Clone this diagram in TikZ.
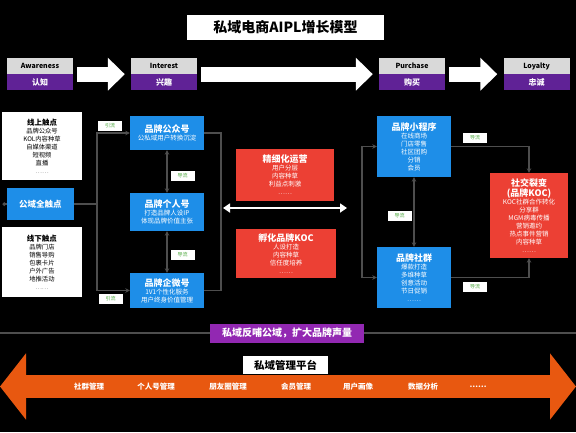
\documentclass[tikz,border=0pt]{standalone}
\usepackage{fontspec}
\setmainfont{Noto Sans CJK SC}
\usetikzlibrary{arrows.meta, positioning}
\definecolor{AIPLBlue}{RGB}{30,142,232}
\definecolor{AIPLRed}{RGB}{236,64,52}
\definecolor{AIPLPurple}{RGB}{96,34,150}
\definecolor{AIPLViolet}{RGB}{146,40,178}
\definecolor{AIPLOrange}{RGB}{232,88,16}
\definecolor{AIPLGray}{RGB}{217,217,217}
\definecolor{AIPLLine}{RGB}{78,78,78}
\definecolor{AIPLGreen}{RGB}{76,168,60}
\newcommand{\boxtitle}[1]{{\bfseries\fontsize{9}{12}\selectfont #1}}

\begin{document}
\begin{tikzpicture}[
    x=1pt, y=-1pt,
    bluebox/.style={rectangle, fill=AIPLBlue, text=white, minimum width=74pt, align=center, inner sep=0pt, font=\fontsize{6.5}{8}\selectfont},
    redbox/.style={rectangle, fill=AIPLRed, text=white, align=center, inner sep=0pt, font=\fontsize{6.5}{8}\selectfont},
    whitebox/.style={rectangle, fill=white, text=black, minimum width=80pt, align=center, inner sep=0pt, font=\fontsize{6.3}{8}\selectfont},
    tagbox/.style={rectangle, fill=white, text=AIPLGreen, minimum width=24pt, minimum height=10pt, inner sep=0pt, font=\fontsize{5}{6}\selectfont},
    stagetop/.style={rectangle, fill=AIPLGray, minimum width=66pt, minimum height=16pt, inner sep=0pt, font=\bfseries\fontsize{7}{8}\selectfont},
    stagebot/.style={rectangle, fill=AIPLPurple, text=white, minimum width=66pt, minimum height=16pt, inner sep=0pt, font=\bfseries\fontsize{8}{9}\selectfont},
    blockarrow/.style={white, line width=15pt, -{Triangle[length=17pt, width=32pt]}, shorten <=4pt, shorten >=6pt},
    link/.style={AIPLLine, line width=1.2pt},
    conn/.style={link, -{Stealth[length=4.5pt, width=4.5pt]}},
    dconn/.style={link, {Stealth[length=4.5pt, width=4.5pt]}-{Stealth[length=4.5pt, width=4.5pt]}},
    mgmt/.style={text=white, font=\bfseries\fontsize{7.5}{9}\selectfont}
]
    \fill[black] (0,0) rectangle (576,432);
    \useasboundingbox (0,0) rectangle (576,432);

    % title
    \node[fill=white, minimum width=197pt, minimum height=25pt, font=\bfseries\fontsize{14}{16}\selectfont] (title) at (285.5,27) {私域电商AIPL增长模型};

    % AIPL stages
    \node[stagetop] (aw) at (40,66) {Awareness};
    \node[stagebot] (awcn) at (40,82) {认知};
    \node[stagetop] (in) at (164,66) {Interest};
    \node[stagebot] (incn) at (164,82) {兴趣};
    \node[stagetop] (pu) at (412,66) {Purchase};
    \node[stagebot] (pucn) at (412,82) {购买};
    \node[stagetop] (lo) at (536.5,66) {Loyalty};
    \node[stagebot] (locn) at (536.5,82) {忠诚};
    \draw[blockarrow] (aw.south east) -- (in.south west);
    \draw[blockarrow] (in.south east) -- (pu.south west);
    \draw[blockarrow] (pu.south east) -- (lo.south west);

    % public touch points
    \node[whitebox, minimum height=68pt] (online) at (42,146) {{\bfseries\fontsize{7.5}{10}\selectfont 线上触点}\\品牌公众号\\KOL内容种草\\自媒体渠道\\短视频\\直播\\{\color{gray}……}};
    \node[bluebox, minimum width=67pt, minimum height=32pt, font=\bfseries\fontsize{8.5}{10}\selectfont] (pub) at (40.5,204) {公域全触点};
    \node[whitebox, minimum height=70pt] (offline) at (42,262) {{\bfseries\fontsize{7.5}{10}\selectfont 线下触点}\\品牌门店\\销售导购\\包裹卡片\\户外广告\\地推活动\\{\color{gray}……}};

    % private accounts
    \node[bluebox, minimum height=34pt] (gzh) at (167,133) {\boxtitle{品牌公众号}\\公私域用户转换沉淀};
    \node[bluebox, minimum height=38pt] (grh) at (167,212) {\boxtitle{品牌个人号}\\打造品牌人设IP\\体现品牌价值主张};
    \node[bluebox, minimum height=35pt] (qwh) at (167,290.5) {\boxtitle{品牌企微号}\\1V1个性化服务\\用户终身价值管理};

    % operations
    \node[redbox, minimum width=98pt, minimum height=52pt] (fine) at (285,175) {\boxtitle{精细化运营}\\用户分层\\内容种草\\利益点刺激\\……};
    \node[redbox, minimum width=100pt, minimum height=49pt] (koc) at (286,253.5) {\boxtitle{孵化品牌KOC}\\人设打造\\内容种草\\信任度培养\\……};

    % conversion
    \node[bluebox, minimum height=61pt] (xcx) at (414,146.5) {\boxtitle{品牌小程序}\\在线商场\\门店零售\\社区团购\\分销\\会员};
    \node[bluebox, minimum height=61pt] (sq) at (414,277.5) {\boxtitle{品牌社群}\\爆款打造\\多维种草\\创意活动\\节日促销\\……};
    \node[redbox, minimum width=78pt, minimum height=85pt] (fission) at (529,215.5) {\boxtitle{社交裂变}\\\boxtitle{(品牌KOC)}\\KOC社群合作转化\\分享群\\MGM病毒传播\\营销邀约\\热点事件营销\\内容种草\\……};

    % connectors
    \coordinate (pubin) at (2.5,204);
    \coordinate (lsplit) at (97,204);
    \coordinate (lbr) at (221,208);
    \coordinate (rbr) at (362,208);
    \draw[link, {Circle[length=3.5pt]}-] (pubin) -- (pub.west);
    \draw[link] (pub.east) -- (lsplit);
    \draw[conn] (lsplit) |- (gzh.west);
    \draw[conn] (lsplit) |- (qwh.west);
    \draw[dconn] (gzh) -- (grh);
    \draw[dconn] (grh) -- (qwh);
    \draw[link] (gzh.east) -| (lbr) |- (qwh.east);
    \draw[conn] (rbr) |- (xcx.west);
    \draw[conn] (rbr) |- (sq.west);
    \draw[white, line width=2.5pt, {Triangle[length=7pt, width=9pt]}-{Triangle[length=7pt, width=9pt]}, shorten <=2pt, shorten >=15pt] (lbr) -- (rbr);
    \draw[dconn] (xcx) -- (sq);
    \draw[conn] (xcx.east) -| (fission.north);
    \draw[conn] (sq.east) -| (fission.south);

    % flow tags
    \node[tagbox] (yl1) at (110,125.5) {引流};
    \node[tagbox] (yl2) at (110.5,298.5) {引流};
    \node[tagbox] (dl1) at (182.5,175.5) {导流};
    \node[tagbox] (dl2) at (182.5,255) {导流};
    \node[tagbox] (dl3) at (399.5,215.5) {导流};
    \node[tagbox] (dl4) at (475,138) {导流};
    \node[tagbox] (dl5) at (475,286.5) {导流};

    % feedback banner
    \coordinate (gl) at (0,333);
    \coordinate (gr) at (576,333);
    \draw[AIPLLine, line width=1.5pt] (gl) -- (gr);
    \node[fill=AIPLViolet, text=white, minimum width=154pt, minimum height=19pt, font=\bfseries\fontsize{10}{12}\selectfont] (feed) at (287,333) {私域反哺公域，扩大品牌声量};

    % management platform
    \coordinate (ol) at (0,386.5);
    \coordinate (or) at (576,386.5);
    \draw[AIPLOrange, line width=23pt, {Triangle[length=26pt, width=65pt]}-{Triangle[length=26pt, width=65pt]}] (ol) -- (or);
    \node[fill=white, minimum width=85pt, minimum height=18pt, font=\bfseries\fontsize{10.5}{12}\selectfont] (platform) at (285.5,365) {私域管理平台};
    \foreach \lbl/\xpos [count=\i] in {社群管理/89, 个人号管理/156, 朋友圈管理/228, 会员管理/296, 用户画像/358, 数据分析/423, {……}/478}
        \node[mgmt] (pm\i) at (\xpos,387) {\lbl};
\end{tikzpicture}
\end{document}
